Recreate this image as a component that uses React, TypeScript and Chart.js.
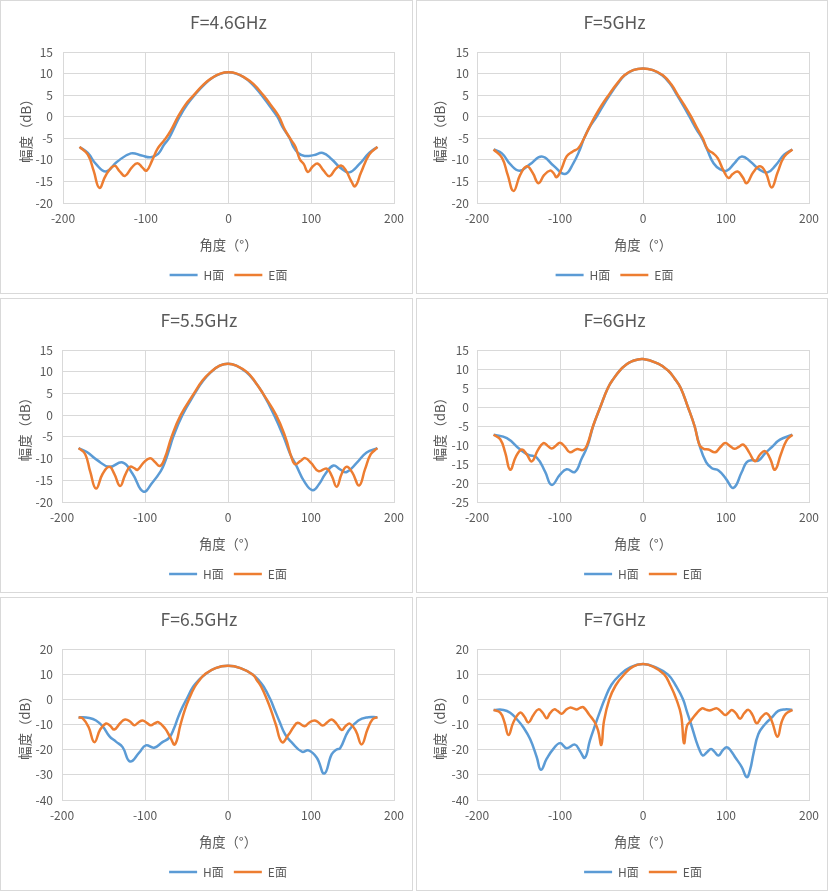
import React, { useEffect, useRef } from "react";
import { Chart, registerables } from "chart.js";

Chart.register(...registerables);

const FONT = '"Noto Sans CJK SC", "Noto Sans", sans-serif';
const TEXT = "#595959";
const GRID = "#d9d9d9";
const H_COLOR = "#5B9BD5";
const E_COLOR = "#ED7D31";

const seriesLabels = ["H面", "E面"];
const xAxisTitle = "角度（°）";
const yAxisTitle = "幅度（dB）";
const xMin = -200;
const xMax = 200;
const xStep = 100;

// ---- F = 4.6 GHz ----
const h46Angles = [-180, -170, -160, -148, -135, -118, -105, -94, -85, -78, -72, -65, -59, -50, -41, -28, -18, -9, 0, 9, 18, 28, 40, 50, 59, 65, 74, 78, 84, 92, 103, 114, 125, 135, 146, 158, 170, 180];
const h46Values = [-7.0, -8.4, -11.0, -12.7, -10.5, -8.5, -9.0, -9.4, -8.6, -6.5, -5.0, -2.3, 0.0, 2.8, 5.0, 7.7, 9.2, 10.0, 10.3, 10.0, 9.2, 7.7, 5.0, 2.4, 0.0, -2.3, -5.0, -6.8, -8.4, -9.1, -8.9, -8.4, -9.9, -11.8, -12.9, -11.0, -8.4, -7.0];
const e46Angles = [-180, -170, -163, -156, -148, -138, -131, -125, -117, -110, -104, -99, -92, -86, -77, -70, -61, -52, -42, -30, -20, -10, 0, 10, 20, 30, 42, 52, 61, 68, 76, 81, 86, 91, 96, 102, 108, 115, 122, 129, 136, 142, 148, 153, 160, 170, 180];
const e46Values = [-7.0, -8.8, -12.5, -16.5, -13.5, -11.4, -12.8, -13.7, -11.8, -10.8, -11.8, -12.5, -10.0, -7.5, -5.3, -3.3, 0.0, 2.8, 5.0, 7.5, 9.0, 10.0, 10.3, 10.0, 9.0, 7.6, 5.0, 2.5, 0.0, -3.0, -5.5, -7.0, -9.8, -11.0, -12.8, -11.5, -10.9, -12.5, -13.8, -12.2, -11.3, -12.5, -14.8, -16.1, -13.0, -8.8, -7.0];

// ---- F = 5 GHz ----
const h5Angles = [-180, -170, -160, -149, -136, -122, -108, -94, -84, -76, -71, -64, -56, -48, -40, -31, -22, -11, 0, 11, 23, 32, 41, 49, 56, 64, 71, 77, 85, 93, 101, 110, 119, 130, 140, 150, 160, 170, 180];
const h5Values = [-7.6, -8.5, -11.0, -12.5, -11.0, -9.2, -11.3, -13.3, -10.8, -7.6, -5.0, -2.3, 0.0, 2.6, 5.0, 7.5, 9.6, 10.85, 11.2, 10.85, 9.6, 7.8, 5.0, 2.4, 0.0, -2.8, -5.0, -7.5, -10.8, -12.2, -12.5, -10.8, -9.2, -10.5, -12.2, -12.9, -11.2, -8.8, -7.6];
const e5Angles = [-180, -170, -163, -156, -148, -140, -133, -126, -119, -112, -108, -104, -98, -92, -85, -78, -71, -65, -58, -50, -41.5, -32, -22.5, -12, 0, 12, 24, 34, 42, 50, 58, 65, 72, 78, 84, 90, 97, 103, 108, 114, 120, 125, 133, 141, 148, 155, 162, 170, 180];
const e5Values = [-7.6, -9.5, -13.5, -17.2, -13.5, -11.5, -13.0, -15.4, -13.5, -12.5, -13.0, -14.0, -12.0, -9.2, -8.1, -7.3, -5.0, -2.6, 0.0, 2.6, 5.0, 7.5, 9.6, 10.8, 11.2, 10.8, 9.6, 7.5, 5.0, 2.6, 0.0, -2.6, -5.0, -7.6, -8.4, -9.6, -12.5, -14.2, -13.3, -12.7, -14.0, -15.4, -12.8, -11.5, -13.0, -16.4, -13.0, -9.3, -7.6];

// ---- F = 5.5 GHz ----
const h55Angles = [-180, -170, -158, -143, -127, -115, -102, -91, -81, -76, -71, -66, -55, -40, -30, -20.5, -10, 0, 10, 22, 32, 42, 55.6, 67, 75, 82, 92, 102, 110, 117, 127, 135, 143, 155, 167, 180];
const h55Values = [-7.6, -8.5, -10.3, -11.9, -10.9, -13.5, -17.6, -15.5, -12.9, -10.8, -8.0, -5.0, 0.0, 5.0, 7.9, 9.9, 11.4, 11.85, 11.4, 9.9, 7.8, 5.0, 0.0, -5.0, -9.0, -11.5, -15.3, -17.3, -15.8, -13.6, -11.6, -12.5, -13.1, -11.0, -8.6, -7.6];
const e55Angles = [-180, -172, -166, -159, -151, -143, -137, -130, -124, -118, -113, -109, -102, -94, -88, -82, -76.4, -68, -57, -41, -31, -21, -10, 0, 10, 23, 33, 42, 58, 69, 77, 81, 87, 93, 100, 109, 119, 125, 131, 137, 143, 150, 158, 165, 172, 180];
const e55Values = [-7.6, -9.0, -13.0, -16.9, -13.5, -11.9, -13.5, -16.3, -13.8, -11.9, -12.2, -12.6, -11.0, -9.9, -10.8, -11.7, -10.0, -5.0, 0.0, 5.0, 7.9, 9.9, 11.4, 11.85, 11.4, 9.9, 7.6, 5.0, 0.0, -5.0, -10.0, -11.3, -10.6, -9.9, -11.0, -12.9, -12.3, -14.0, -16.5, -13.5, -11.9, -13.3, -16.2, -12.5, -9.0, -7.6];

// ---- F = 6 GHz ----
const h6Angles = [-180, -164, -148, -138, -128, -118, -110, -100, -92, -82, -74, -67, -60, -51.4, -42.3, -35, -27.5, -21.6, -13.6, 0, 18.3, 30.2, 38, 45.4, 54.1, 62.1, 68, 76, 83, 91, 100, 109, 119, 125, 132, 139, 147, 155, 165, 180];
const h6Values = [-7.3, -8.2, -11.2, -12.6, -13.3, -17.0, -20.5, -17.8, -16.4, -17.1, -13.6, -10.3, -5.0, 0.0, 5.0, 7.6, 9.7, 10.9, 12.0, 12.65, 11.4, 9.6, 7.5, 5.0, 0.0, -5.0, -10.0, -14.5, -16.1, -16.7, -18.9, -21.3, -17.1, -14.5, -14.0, -14.1, -12.2, -10.6, -8.6, -7.3];
const e6Angles = [-180, -172, -166, -160, -153, -146, -140, -134, -127, -120, -115, -110, -105, -100, -94, -88, -80, -72, -67.4, -60.2, -51.4, -42.3, -35, -27.5, -21.6, -13.6, 0, 18.3, 30.2, 38, 45.4, 54.1, 62.1, 68, 73, 79, 87, 93, 99, 105, 110, 116, 121, 128, 135, 141, 147, 153, 159, 166, 173, 180];
const e6Values = [-7.3, -8.5, -12.0, -16.5, -13.0, -11.2, -12.5, -14.3, -11.5, -9.5, -10.2, -10.9, -10.2, -9.4, -10.5, -11.9, -11.1, -11.3, -10.0, -5.0, 0.0, 5.0, 7.6, 9.7, 10.9, 12.0, 12.65, 11.4, 9.6, 7.5, 5.0, 0.0, -5.0, -10.0, -11.0, -11.2, -11.9, -10.6, -9.5, -10.3, -11.0, -10.4, -9.9, -12.0, -14.3, -12.5, -11.6, -13.5, -16.5, -12.5, -8.8, -7.3];

// ---- F = 6.5 GHz ----
const h65Angles = [-180, -167, -159, -151, -143, -135, -127, -118, -107, -99, -89, -79, -71, -65, -60, -55, -50, -42, -35, -28, -15, 0, 15, 30, 37, 43, 51, 56, 62, 69, 77, 89, 97, 107, 116, 125, 131, 135, 145, 157, 169, 180];
const h65Values = [-7.1, -7.4, -8.4, -10.7, -14.6, -16.8, -19.0, -24.7, -21.2, -18.3, -19.2, -17.0, -15.3, -11.5, -7.0, -3.2, 0.0, 5.0, 7.7, 9.8, 12.4, 13.3, 12.4, 9.8, 7.6, 5.0, 0.0, -4.0, -8.8, -14.0, -17.2, -20.8, -20.3, -23.2, -29.5, -21.8, -19.9, -19.5, -12.6, -8.4, -7.1, -7.1];
const e65Angles = [-180, -175, -168, -161, -154, -147, -142, -137, -130, -124, -118, -113, -108, -103, -98, -93, -88, -84, -76, -70, -64, -57.2, -52, -47.2, -40, -34, -28.5, -15, 0, 15, 30, 35, 40, 46.8, 52, 57.6, 65, 73, 79, 84, 92, 98, 104, 109, 114, 120, 125, 131, 137, 142, 147, 154, 161, 168, 174, 180];
const e65Values = [-7.1, -7.6, -11.0, -17.0, -12.0, -9.6, -10.5, -12.0, -9.5, -8.0, -8.8, -10.3, -9.2, -8.4, -9.3, -10.3, -9.5, -9.1, -11.5, -14.8, -17.9, -10.0, -4.2, 0.0, 5.0, 7.8, 9.8, 12.4, 13.3, 12.4, 9.8, 7.5, 5.0, 0.0, -4.5, -10.0, -17.0, -14.0, -11.0, -9.3, -10.7, -9.2, -8.4, -9.2, -10.4, -9.0, -8.0, -9.8, -12.2, -10.5, -9.7, -12.5, -17.9, -12.0, -8.0, -7.1];

// ---- F = 7 GHz ----
const h7Angles = [-180, -168, -160, -152, -144, -136, -128, -123, -116, -108, -100, -92, -82, -76, -70, -64, -57.4, -52, -46.2, -38, -27.5, -15, 0, 15, 30.2, 40, 48.2, 53, 58, 64, 68, 72, 77, 82, 86, 91, 96, 101, 106, 111, 119, 125, 129, 133, 139, 147, 155, 163, 171, 180];
const h7Values = [-4.2, -4.2, -5.3, -7.9, -11.2, -15.8, -23.0, -28.0, -23.6, -19.7, -17.4, -19.4, -18.0, -20.5, -23.2, -16.4, -10.0, -5.0, 0.0, 5.8, 9.8, 12.8, 14.0, 12.8, 9.8, 5.2, 0.0, -5.0, -10.0, -16.5, -20.0, -22.3, -21.0, -19.7, -20.8, -22.3, -20.3, -19.0, -20.5, -23.0, -26.9, -30.9, -28.0, -21.7, -13.8, -9.9, -7.3, -4.6, -4.0, -4.2];
const e7Angles = [-180, -172, -167, -162, -156, -148, -143, -138, -132, -126, -121, -116, -112, -107, -103, -98, -93, -88, -84, -80, -76, -72, -65, -58, -54, -50.2, -47, -40.6, -33, -22.7, -12, 0, 12, 25.5, 33, 40.2, 46, 49.4, 53, 57, 63, 71, 76, 80, 85, 89, 94, 99, 103, 107, 112, 117, 122, 127, 132, 137, 143, 149, 155, 162, 167, 172, 180];
const e7Values = [-4.2, -5.3, -9.0, -14.2, -9.0, -5.3, -6.8, -9.2, -6.2, -4.0, -5.3, -7.5, -5.5, -4.0, -4.6, -5.7, -4.2, -3.3, -3.6, -4.0, -3.4, -3.1, -6.0, -9.2, -12.5, -18.1, -8.6, 0.0, 5.5, 9.9, 13.0, 14.0, 13.0, 9.9, 5.5, 0.0, -6.5, -17.4, -10.5, -8.8, -6.2, -3.6, -4.1, -4.4, -3.9, -3.6, -4.8, -6.2, -5.3, -4.2, -5.6, -7.7, -5.5, -4.2, -6.3, -9.5, -7.0, -5.6, -8.5, -14.9, -9.0, -5.8, -4.2];

type PanelSpec = {
  title: string;
  hAngles: number[];
  hValues: number[];
  eAngles: number[];
  eValues: number[];
  yMin: number;
  yMax: number;
  yStep: number;
  left: number;
  top: number;
  width: number;
  height: number;
  yWidth: number;
  titleFull: boolean;
  legendFull: boolean;
};

const panels: PanelSpec[] = [
  { title: "F=4.6GHz", hAngles: h46Angles, hValues: h46Values, eAngles: e46Angles, eValues: e46Values, yMin: -20, yMax: 15, yStep: 5, left: 0, top: 0, width: 413, height: 294, yWidth: 62, titleFull: false, legendFull: false },
  { title: "F=5GHz", hAngles: h5Angles, hValues: h5Values, eAngles: e5Angles, eValues: e5Values, yMin: -20, yMax: 15, yStep: 5, left: 416, top: 0, width: 412, height: 294, yWidth: 60, titleFull: true, legendFull: true },
  { title: "F=5.5GHz", hAngles: h55Angles, hValues: h55Values, eAngles: e55Angles, eValues: e55Values, yMin: -20, yMax: 15, yStep: 5, left: 0, top: 298, width: 413, height: 295, yWidth: 61, titleFull: true, legendFull: false },
  { title: "F=6GHz", hAngles: h6Angles, hValues: h6Values, eAngles: e6Angles, eValues: e6Values, yMin: -25, yMax: 15, yStep: 5, left: 416, top: 298, width: 412, height: 295, yWidth: 60, titleFull: true, legendFull: false },
  { title: "F=6.5GHz", hAngles: h65Angles, hValues: h65Values, eAngles: e65Angles, eValues: e65Values, yMin: -40, yMax: 20, yStep: 10, left: 0, top: 597, width: 413, height: 294, yWidth: 61, titleFull: true, legendFull: false },
  { title: "F=7GHz", hAngles: h7Angles, hValues: h7Values, eAngles: e7Angles, eValues: e7Values, yMin: -40, yMax: 20, yStep: 10, left: 416, top: 597, width: 412, height: 294, yWidth: 60, titleFull: true, legendFull: false },
];

const toPoints = (xs: number[], ys: number[]) => xs.map((x, i) => ({ x, y: ys[i] }));

function Panel({ spec }: { spec: PanelSpec }) {
  const ref = useRef<HTMLCanvasElement>(null);
  useEffect(() => {
    const canvas = ref.current;
    if (!canvas) return;
    const lineDs = (label: string, color: string, data: { x: number; y: number }[], order: number) => ({
      label,
      data,
      showLine: true,
      borderColor: color,
      backgroundColor: color,
      borderWidth: 2.5,
      pointRadius: 0,
      pointHoverRadius: 0,
      tension: 0.45,
      order,
    });
    const chart = new Chart(canvas, {
      type: "scatter",
      data: {
        datasets: [
          lineDs(seriesLabels[0], H_COLOR, toPoints(spec.hAngles, spec.hValues), 2),
          lineDs(seriesLabels[1], E_COLOR, toPoints(spec.eAngles, spec.eValues), 1),
        ],
      },
      options: {
        responsive: false,
        animation: false,
        layout: { padding: { left: 0, right: 15, top: 0, bottom: 2 } },
        plugins: {
          title: {
            display: true,
            text: spec.title,
            color: TEXT,
            fullSize: spec.titleFull,
            font: { family: FONT, size: 17.5, weight: "normal" },
            padding: { top: 10.8, bottom: 19.2 },
          },
          legend: {
            position: "bottom",
            fullSize: spec.legendFull,
            labels: {
              usePointStyle: true,
              pointStyle: "line",
              pointStyleWidth: 28,
              color: TEXT,
              font: { family: FONT, size: 12 },
              padding: 10,
              sort: (a: any, b: any) => a.datasetIndex - b.datasetIndex,
            },
          },
          tooltip: { enabled: false },
        },
        scales: {
          x: {
            type: "linear",
            min: xMin,
            max: xMax,
            ticks: { stepSize: xStep, color: TEXT, font: { family: FONT, size: 12 }, padding: 8 },
            grid: { color: GRID, lineWidth: 1, drawTicks: false },
            border: { color: GRID },
            title: {
              display: true,
              text: xAxisTitle,
              color: TEXT,
              font: { family: FONT, size: 13.33 },
              padding: { top: 0, bottom: 6 },
            },
            afterFit: (scale: any) => {
              scale.height = 56;
            },
          },
          y: {
            type: "linear",
            min: spec.yMin,
            max: spec.yMax,
            ticks: { stepSize: spec.yStep, color: TEXT, font: { family: FONT, size: 12 }, padding: spec.yWidth - 52 },
            grid: { color: GRID, lineWidth: 1, drawTicks: false },
            border: { color: GRID },
            title: {
              display: true,
              text: yAxisTitle,
              color: TEXT,
              font: { family: FONT, size: 13.33 },
              padding: { top: spec.yWidth - 45.5, bottom: 0 },
            },
            afterFit: (scale: any) => {
              scale.width = spec.yWidth;
            },
          },
        },
      },
    } as any);
    return () => chart.destroy();
  }, [spec]);
  return (
    <div
      style={{
        position: "absolute",
        left: spec.left,
        top: spec.top,
        width: spec.width,
        height: spec.height,
        border: `1px solid ${GRID}`,
        boxSizing: "border-box",
        background: "#ffffff",
      }}
    >
      <canvas ref={ref} width={spec.width - 2} height={spec.height - 2} style={{ display: "block" }} />
    </div>
  );
}

export default function App() {
  return (
    <div style={{ position: "absolute", left: 0, top: 0, width: 829, height: 891, background: "#ffffff" }}>
      {panels.map((p) => (
        <Panel key={p.title} spec={p} />
      ))}
    </div>
  );
}
